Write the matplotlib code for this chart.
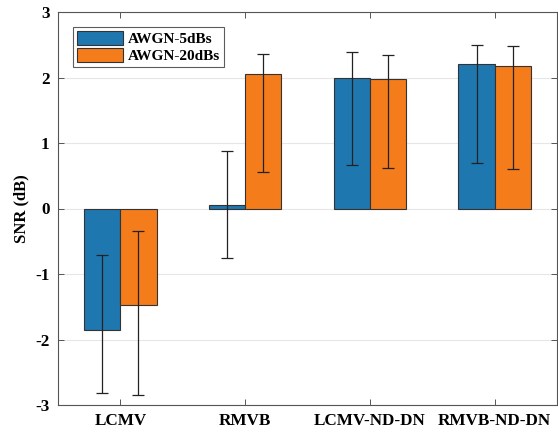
import matplotlib
matplotlib.use("Agg")
import matplotlib.pyplot as plt
import numpy as np

categories = ["LCMV", "RMVB", "LCMV-ND-DN", "RMVB-ND-DN"]
series_names = ["AWGN-5dBs", "AWGN-20dBs"]

snr_5db = [-1.86, 0.05, 2.00, 2.20]
err_lo_5db = [-2.82, -0.75, 0.67, 0.69]
err_hi_5db = [-0.71, 0.88, 2.39, 2.49]

snr_20db = [-1.47, 2.06, 1.98, 2.17]
err_lo_20db = [-2.85, 0.56, 0.62, 0.61]
err_hi_20db = [-0.35, 2.36, 2.34, 2.48]

yticks = [-3, -2, -1, 0, 1, 2, 3]

plt.rcParams['font.family'] = ['Liberation Serif', 'DejaVu Serif']
plt.rcParams['font.weight'] = 'bold'

fig = plt.figure(figsize=(5.58, 4.37), dpi=100)
ax = fig.add_axes([58/558, 32/437, 499/558, 393/437])

x = np.arange(1, len(categories) + 1)
w = 0.29
colors = ["#1f77b0", "#f57c1a"]

for i, (vals, lo, hi) in enumerate([(snr_5db, err_lo_5db, err_hi_5db),
                                    (snr_20db, err_lo_20db, err_hi_20db)]):
    vals = np.array(vals)
    pos = x + (i - 0.5) * w
    ax.bar(pos, vals, width=w, color=colors[i], edgecolor="#333333",
           linewidth=0.8, label=series_names[i], zorder=2)
    yerr = np.vstack([vals - np.array(lo), np.array(hi) - vals])
    ax.errorbar(pos, vals, yerr=yerr, fmt="none", ecolor="#222222",
                elinewidth=0.9, capsize=4, capthick=0.9, zorder=3)

ax.set_xlim(0.5, 4.5)
ax.set_ylim(-3, 3)
ax.set_xticks(x)
ax.set_xticklabels(categories, fontsize=12.3, fontweight="bold")
ax.set_yticks(yticks)
ax.set_yticklabels([str(t) for t in yticks], fontsize=12.3, fontweight="bold")
ax.set_ylabel("SNR (dB)", fontsize=12, fontweight="bold", labelpad=4)

ax.grid(axis="y", color="#e6e6e6", linewidth=0.8, zorder=0)
ax.set_axisbelow(True)
ax.tick_params(direction="in", length=4, width=0.7, color="#555555",
               top=True, right=True, pad=6)
for s in ax.spines.values():
    s.set_color("#555555")
    s.set_linewidth(0.8)

leg = ax.legend(loc="upper left", bbox_to_anchor=(0.03, 0.962),
                borderaxespad=0,
                prop={"size": 11, "weight": "bold"}, frameon=True,
                fancybox=False, edgecolor="#333333", handlelength=3.0,
                handleheight=1.1, borderpad=0.25, labelspacing=0.1,
                handletextpad=0.35)
leg.get_frame().set_linewidth(0.8)

fig.savefig("out.png", dpi=100)
